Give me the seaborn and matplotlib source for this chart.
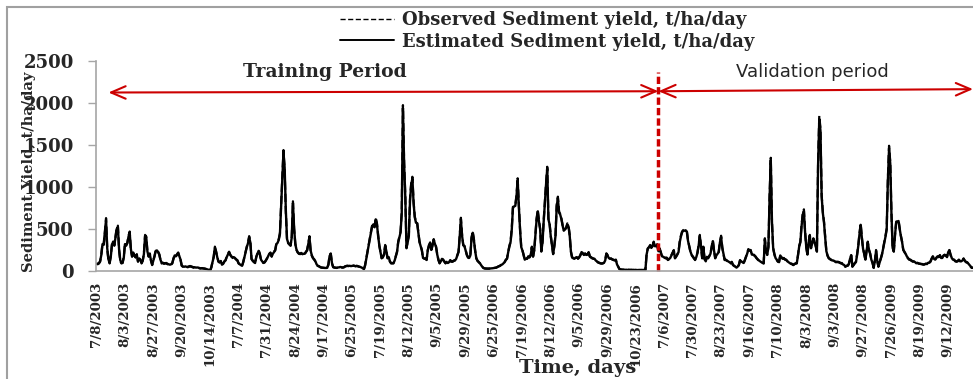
import numpy as np
import pandas as pd
import matplotlib
matplotlib.use("Agg")
import matplotlib.pyplot as plt
import seaborn as sns
from matplotlib.patches import Rectangle, ArrowStyle
from matplotlib.lines import Line2D

# ---------------- data (daily values, monsoon seasons) ----------------
obs_2003 = [
    90, 80, 95, 110, 200, 330, 310, 450, 630, 260, 130, 90, 180, 320, 360, 300, 410, 520, 540, 250, 120, 90, 95, 170,
    330, 300, 340, 420, 470, 250, 170, 230, 180, 160, 200, 110, 150, 140, 90, 120, 210, 430, 410, 220, 170, 210, 120, 70,
    130, 180, 250, 240, 230, 200, 130, 90, 100, 85, 95, 90, 80, 85, 70, 75, 90, 150, 190, 170, 200, 220, 170, 130,
    60, 50, 55, 50, 45, 50, 55, 60, 50, 45, 45, 40, 45, 45, 38, 32, 30, 35, 32, 28, 25, 20, 15, 10,
    5, 40, 110, 170, 290, 230, 170, 110, 100, 120, 70, 90, 110, 130, 170, 200, 230, 190, 170, 160, 170, 150, 140, 130,
]
obs_2004 = [
    90, 75, 65, 60, 110, 170, 230, 290, 340, 415, 350, 140, 120, 110, 90, 170, 210, 250, 200, 130, 110, 95, 100, 120,
    150, 180, 200, 220, 170, 210, 230, 250, 330, 340, 380, 450, 800, 1120, 1440, 1200, 700, 370, 330, 320, 300, 410, 830, 500,
    330, 250, 220, 210, 200, 210, 205, 210, 200, 230, 250, 330, 415, 230, 180, 150, 140, 110, 75, 60, 55, 45, 40, 38,
    36, 35, 38, 36, 80, 190, 210, 90, 45, 40, 38, 36, 40, 45, 50, 42, 40, 45, 55, 60, 63, 58, 65, 60,
]
obs_2005 = [
    62, 65, 60, 58, 62, 55, 50, 48, 40, 30, 20, 70, 150, 230, 310, 390, 470, 547, 567, 527, 634, 570, 430, 300,
    230, 150, 160, 200, 310, 230, 150, 170, 110, 90, 95, 90, 130, 180, 230, 350, 410, 470, 706, 1975, 1300, 900, 270, 350,
    430, 865, 1050, 1122, 825, 650, 587, 580, 470, 350, 300, 250, 150, 145, 150, 130, 250, 310, 350, 250, 300, 380, 330, 290,
    200, 130, 90, 120, 150, 130, 110, 90, 110, 90, 100, 130, 110, 115, 120, 130, 150, 190, 230, 420, 634, 430, 310, 300,
    250, 190, 160, 150, 190, 400, 470, 380, 250, 150, 120, 110, 90, 70, 50, 36, 30, 28, 28, 27, 28, 30, 30, 32,
]
obs_2006 = [
    35, 38, 40, 50, 55, 63, 70, 80, 90, 110, 130, 150, 230, 300, 350, 506, 766, 780, 786, 904, 1104, 786, 506, 290,
    250, 190, 130, 140, 150, 170, 160, 190, 290, 170, 250, 430, 626, 725, 600, 506, 230, 350, 600, 825, 1050, 1241, 626, 567,
    420, 310, 200, 300, 430, 786, 885, 706, 680, 626, 547, 487, 500, 520, 567, 540, 430, 230, 160, 150, 150, 155, 170, 145,
    160, 190, 230, 210, 190, 210, 190, 200, 230, 170, 160, 150, 150, 140, 120, 110, 100, 95, 90, 90, 90, 100, 130, 210,
    190, 150, 150, 145, 140, 130, 130, 130, 80, 50, 23, 18, 16, 16, 15, 15, 14, 14, 14, 13, 13, 12, 12, 12,
    12, 12, 12, 12, 12, 11, 11, 12, 12,
]
obs_2007 = [
    200, 270, 280, 310, 270, 300, 350, 290, 300, 320, 230, 270, 220, 170, 175,
    165, 150, 160, 130, 140, 150, 190, 220, 250, 150, 170, 200, 230, 350, 420, 470, 487, 490, 495, 480, 369, 300, 230, 190,
    170, 150, 130, 170, 220, 310, 430, 300, 150, 290, 140, 110, 170, 150, 180, 210, 290, 369, 250, 150, 190, 200, 230, 350,
    420, 280, 200, 130, 130, 125, 110, 100, 90, 110, 70, 60, 50, 36, 50, 70, 130, 110, 100, 90, 130, 170, 210, 261,
    250, 250, 190, 200, 190, 170, 150, 140, 120, 110, 100, 95, 90, 390, 230, 190, 290, 900, 1348, 587, 270, 200, 150, 130,
]
obs_2008 = [
    110, 110, 190, 160, 150, 150, 140, 130, 120, 100, 90, 90, 80, 70, 80, 90, 90, 190, 300, 350, 547, 680, 734, 470,
    280, 190, 350, 430, 270, 330, 390, 350, 300, 230, 1300, 1848, 1698, 904, 706, 587, 400, 230, 180, 150, 140, 130, 130, 120,
    110, 110, 105, 110, 100, 95, 90, 80, 70, 50, 60, 65, 80, 150, 190, 50, 70, 90, 110, 200, 310, 450, 567, 400,
    270, 200, 130, 250, 350, 250, 210, 130, 100, 36, 120, 250, 120, 50, 100, 150, 200, 270, 350, 420, 506, 1104, 1491, 1300,
]
obs_2009 = [
    706, 270, 230, 430, 587, 600, 607, 506, 420, 350, 250, 230, 200, 170, 150, 140, 130, 120, 115, 110, 100, 95, 95, 90,
    85, 85, 80, 75, 80, 85, 85, 95, 100, 110, 150, 170, 150, 130, 160, 170, 170, 190, 150, 160, 180, 195, 180, 170,
    230, 250, 190, 150, 140, 130, 120, 110, 120, 130, 120, 110, 130, 150, 120, 110, 100, 90, 70, 50, 36, 40, 35, 30,
]

est_2003 = [
    85, 85, 90, 120, 190, 320, 320, 470, 610, 270, 140, 95, 170, 310, 350, 310, 400, 500, 525, 260, 130, 95, 100, 160,
    320, 310, 330, 410, 455, 260, 175, 220, 185, 165, 195, 115, 145, 135, 95, 125, 200, 415, 400, 230, 175, 200, 125, 75,
    125, 175, 240, 245, 225, 195, 135, 95, 95, 90, 90, 95, 85, 80, 75, 80, 95, 145, 185, 175, 195, 215, 175, 135,
    65, 55, 50, 55, 50, 45, 50, 55, 55, 50, 40, 45, 40, 42, 40, 35, 32, 33, 30, 30, 27, 22, 17, 12,
    8, 45, 105, 165, 280, 235, 165, 115, 105, 115, 75, 85, 115, 125, 165, 195, 225, 195, 175, 155, 165, 155, 135, 125,
]
est_2004 = [
    95, 80, 70, 62, 105, 165, 225, 285, 330, 400, 340, 145, 125, 105, 95, 165, 205, 240, 205, 135, 115, 100, 105, 125,
    145, 175, 205, 215, 175, 205, 225, 245, 320, 335, 370, 440, 780, 1090, 1410, 1230, 720, 380, 335, 315, 305, 400, 810, 510,
    320, 255, 225, 205, 205, 215, 200, 205, 205, 225, 245, 320, 400, 240, 185, 155, 135, 115, 80, 62, 57, 48, 42, 40,
    38, 37, 36, 38, 75, 180, 200, 95, 48, 42, 40, 38, 42, 43, 48, 45, 42, 43, 52, 58, 60, 60, 62, 58,
]
est_2005 = [
    60, 63, 62, 56, 60, 57, 52, 46, 42, 32, 22, 65, 145, 225, 300, 380, 460, 535, 555, 520, 615, 560, 420, 310,
    225, 155, 165, 195, 300, 235, 155, 165, 115, 95, 90, 95, 125, 175, 225, 340, 400, 460, 690, 1940, 1280, 880, 280, 340,
    420, 840, 1030, 1100, 810, 640, 575, 570, 460, 345, 295, 245, 155, 150, 145, 135, 245, 300, 340, 255, 295, 370, 325, 285,
    195, 135, 95, 115, 145, 135, 115, 95, 105, 95, 105, 125, 115, 110, 125, 125, 145, 185, 225, 410, 615, 420, 305, 295,
    245, 195, 165, 155, 185, 390, 455, 370, 245, 155, 125, 105, 95, 72, 52, 38, 32, 30, 29, 28, 29, 31, 32, 33,
]
est_2006 = [
    36, 39, 42, 48, 57, 60, 72, 78, 92, 105, 135, 145, 225, 290, 345, 490, 750, 770, 775, 885, 1080, 770, 495, 285,
    245, 195, 135, 145, 145, 175, 165, 185, 280, 175, 245, 420, 610, 710, 590, 495, 240, 340, 590, 810, 1030, 1220, 615, 555,
    410, 305, 205, 295, 420, 770, 865, 695, 670, 615, 540, 480, 495, 510, 555, 530, 420, 235, 165, 155, 145, 160, 165, 150,
    165, 185, 225, 215, 195, 205, 195, 195, 225, 175, 165, 155, 145, 145, 125, 115, 105, 98, 92, 88, 92, 98, 125, 205,
    185, 155, 145, 150, 135, 135, 125, 135, 78, 52, 25, 19, 17, 15, 16, 14, 15, 13, 14, 12, 14, 12, 13, 11,
    13, 11, 12, 13, 11, 12, 10, 13, 11,
]
est_2007 = [
    195, 265, 285, 300, 275, 295, 340, 295, 295, 310, 235, 265, 225, 175, 170,
    160, 155, 155, 135, 145, 155, 185, 215, 240, 155, 175, 195, 225, 340, 410, 460, 480, 480, 485, 470, 360, 295, 235, 195,
    175, 155, 135, 165, 215, 300, 415, 295, 155, 280, 145, 115, 165, 155, 175, 205, 280, 355, 245, 155, 185, 205, 225, 340,
    405, 275, 205, 135, 135, 120, 115, 105, 95, 105, 75, 62, 52, 40, 52, 72, 125, 115, 105, 95, 125, 165, 205, 250,
    245, 245, 195, 195, 185, 175, 155, 135, 125, 115, 105, 98, 92, 375, 235, 195, 285, 880, 1320, 580, 275, 205, 155, 135,
]
est_2008 = [
    115, 105, 185, 165, 145, 155, 135, 135, 115, 105, 95, 85, 85, 72, 85, 88, 95, 185, 290, 340, 530, 665, 715, 460,
    285, 195, 340, 420, 275, 325, 380, 345, 295, 235, 1270, 1810, 1670, 890, 690, 575, 395, 235, 185, 155, 145, 135, 125, 125,
    115, 105, 110, 105, 105, 92, 95, 78, 72, 52, 62, 62, 85, 145, 185, 55, 72, 95, 105, 195, 300, 440, 550, 395,
    265, 205, 135, 240, 340, 255, 205, 135, 98, 40, 115, 240, 125, 55, 98, 145, 195, 265, 340, 410, 495, 1080, 1460, 1280,
]
est_2009 = [
    690, 275, 235, 420, 575, 590, 595, 500, 415, 345, 255, 225, 205, 175, 155, 135, 135, 125, 112, 115, 105, 92, 98, 88,
    88, 82, 83, 78, 78, 88, 82, 98, 98, 115, 145, 175, 145, 135, 155, 175, 165, 185, 155, 155, 185, 190, 185, 165,
    225, 245, 195, 155, 135, 135, 115, 115, 115, 135, 115, 115, 125, 145, 125, 105, 105, 88, 72, 52, 38, 38, 37, 32,
]

tick_labels = [
    "7/8/2003", "8/3/2003", "8/27/2003", "9/20/2003", "10/14/2003", "7/7/2004", "7/31/2004",
    "8/24/2004", "9/17/2004", "6/25/2005", "7/19/2005", "8/12/2005", "9/5/2005", "9/29/2005",
    "6/25/2006", "7/19/2006", "8/12/2006", "9/5/2006", "9/29/2006", "10/23/2006", "7/6/2007",
    "7/30/2007", "8/23/2007", "9/16/2007", "7/10/2008", "8/3/2008", "9/3/2008", "9/27/2008",
    "7/26/2009", "8/19/2009", "9/12/2009",
]
tick_step = 24
validation_start = 475

observed = np.concatenate([obs_2003, obs_2004, obs_2005, obs_2006, obs_2007, obs_2008, obs_2009]).astype(float)
estimated = np.concatenate([est_2003, est_2004, est_2005, est_2006, est_2007, est_2008, est_2009]).astype(float)
df_obs = pd.DataFrame({"day": np.arange(len(observed)), "value": observed})
df_est = pd.DataFrame({"day": np.arange(len(estimated)), "value": estimated})

# ---------------- figure ----------------
sns.set_style("white")
plt.rcParams["font.family"] = ["DejaVu Serif", "DejaVu Sans"]

W, H = 973, 379
fig = plt.figure(figsize=(W / 100, H / 100), dpi=100)
ax = fig.add_axes([96 / W, 108 / H, 880 / W, 210 / H])

red = "#CC0000"
obs_style = (0, (3.7, 1.8))

sns.lineplot(data=df_obs, x="day", y="value", ax=ax, color="black", lw=1.6,
             linestyle=obs_style, label="_obs")
sns.lineplot(data=df_est, x="day", y="value", ax=ax, color="black", lw=1.7,
             label="_est")

ax.set_xlim(-0.5, 743.5)
ax.set_ylim(0, 2500)
ax.set_yticks([0, 500, 1000, 1500, 2000, 2500])
ax.set_xticks(np.arange(0, tick_step * len(tick_labels), tick_step))
ax.set_xticklabels(tick_labels, rotation=90, fontsize=9.6, fontweight="bold",
                   family="DejaVu Serif")
for t in ax.get_yticklabels():
    t.set_fontsize(13)
    t.set_fontweight("bold")
ax.tick_params(axis="x", length=0, pad=8)
ax.tick_params(axis="y", length=6, width=1, color="#A6A6A6", pad=10, left=True)

for s in ("top", "right"):
    ax.spines[s].set_visible(False)
for s in ("left", "bottom"):
    ax.spines[s].set_color("#A6A6A6")
    ax.spines[s].set_linewidth(1.2)

ax.set_xlabel("")
ax.set_ylabel("Sediment Yield, t/ha/day", fontsize=10.5, fontweight="bold")
ax.yaxis.set_label_coords(-0.068, 0.47)

# validation divider and period arrows
ax.vlines(validation_start, 0, 2370, colors=red, linestyles=[(0, (2.1, 0.9))], lw=2.5,
          clip_on=False)
astyle = ArrowStyle("<->", head_length=0.7, head_width=0.3)
ax.annotate("", xy=(10, 2125), xytext=(validation_start, 2140),
            arrowprops=dict(arrowstyle=astyle, color=red, lw=1.5, mutation_scale=15,
                            shrinkA=0, shrinkB=0), annotation_clip=False)
ax.annotate("", xy=(validation_start, 2140), xytext=(741, 2165),
            arrowprops=dict(arrowstyle=astyle, color=red, lw=1.5, mutation_scale=15,
                            shrinkA=0, shrinkB=0), annotation_clip=False)
ax.text(193, 2368, "Training Period", ha="center", va="center", fontsize=13.5,
        fontweight="bold", family="DejaVu Serif")
ax.text(605, 2368, "Validation period", ha="center", va="center", fontsize=13,
        family="DejaVu Sans")

# legend
handles = [Line2D([], [], color="black", lw=1.0, linestyle=obs_style),
           Line2D([], [], color="black", lw=1.4)]
labels = ["Observed Sediment yield, t/ha/day", "Estimated Sediment yield, t/ha/day"]
ax.legend(handles, labels, loc="upper left", bbox_to_anchor=(340 / W, 1 - 11 / H),
          bbox_transform=fig.transFigure, frameon=False, borderpad=0, borderaxespad=0,
          handlelength=3.0, handletextpad=0.45, labelspacing=0.2,
          prop=dict(family="DejaVu Serif", weight="bold", size=13))

fig.text(578 / W, 1 - 368 / H, "Time, days", ha="center", va="center", fontsize=14,
         fontweight="bold", family="DejaVu Serif")

# outer chart border
fig.add_artist(Rectangle((7 / W, -0.1), 1.2, 1 - 7 / H + 0.1, transform=fig.transFigure,
                         fill=False, edgecolor="#A0A0A0", lw=1.5))

fig.savefig("out.png", dpi=100)
